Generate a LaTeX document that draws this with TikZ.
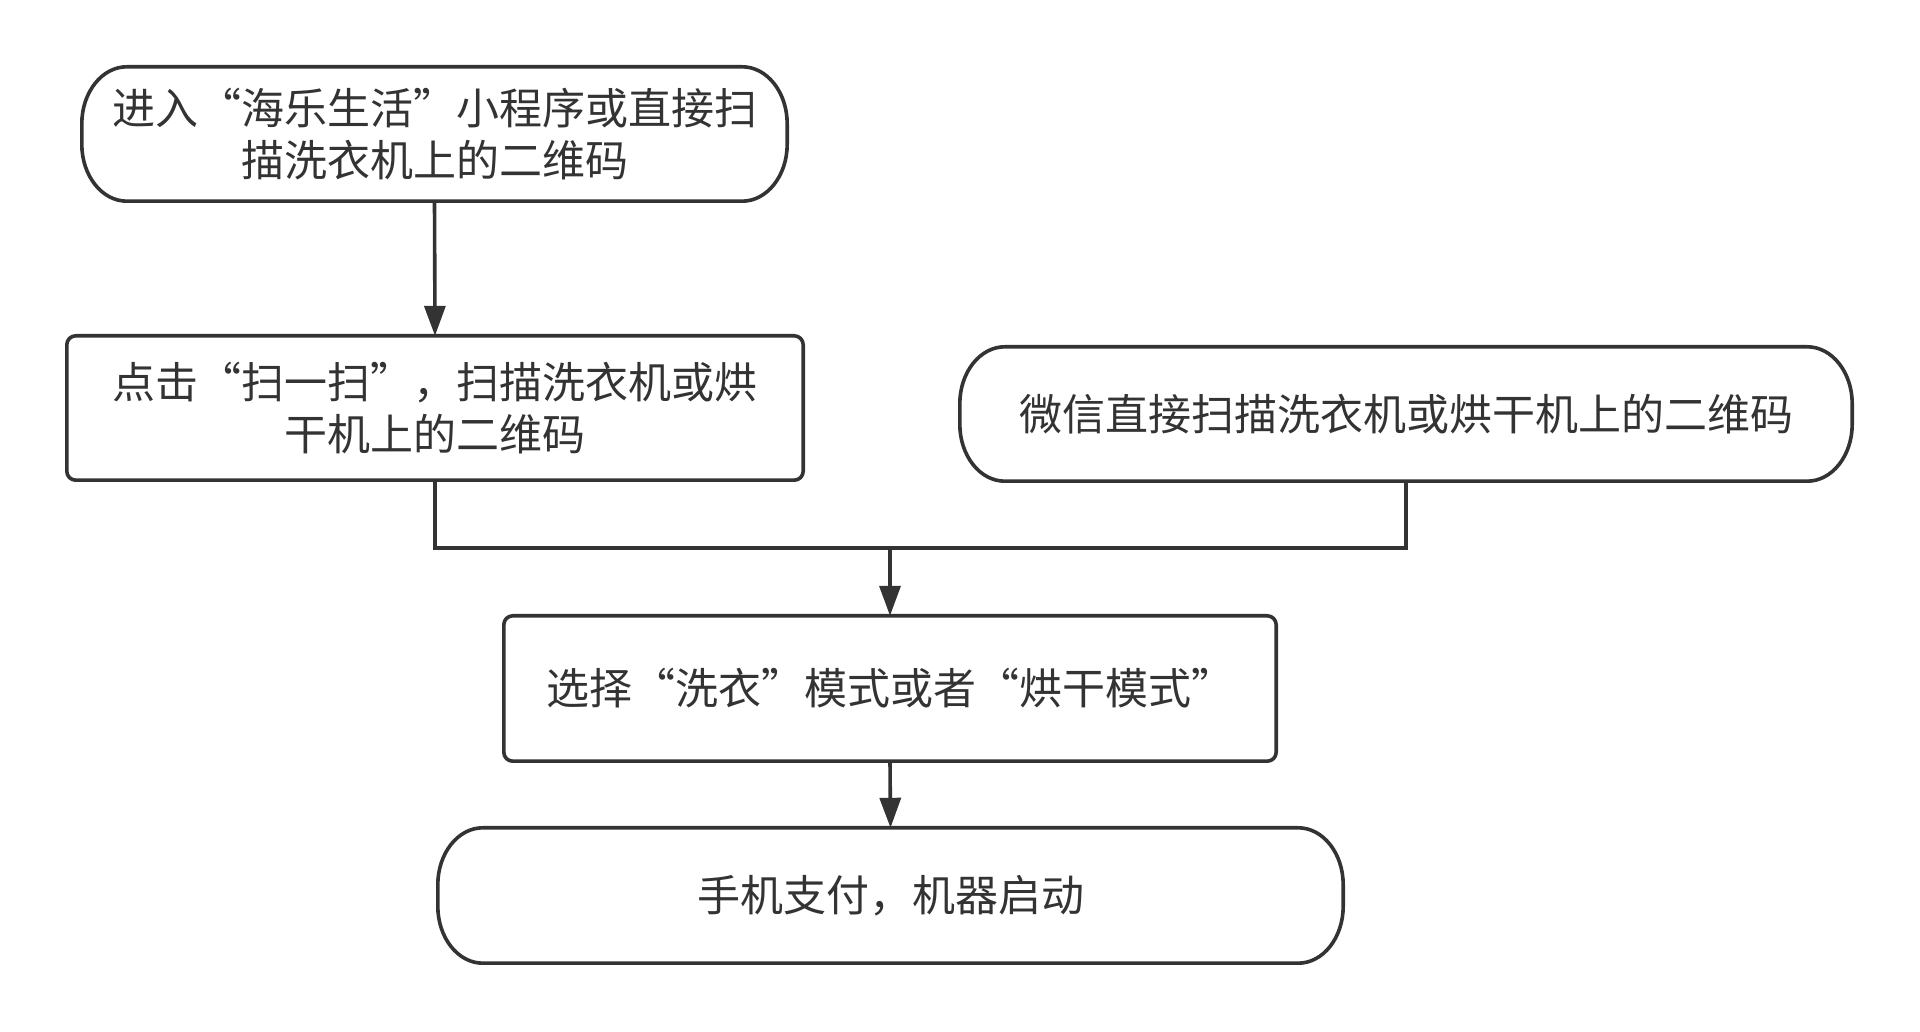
\documentclass[tikz,border=0pt]{standalone}
\usepackage{fontspec}
\newfontfamily\cjk{Noto Sans CJK SC}
\usetikzlibrary{arrows.meta,calc}
\definecolor{ink}{HTML}{333333}
\tikzset{
  ln/.style={draw=ink, line width=3.6pt},
  arr/.style={ln, -{Triangle[length=30pt,width=21pt]}},
  txt/.style={font=\cjk\fontsize{43}{52}\selectfont, text=ink, align=center, inner sep=0pt},
  boxshape/.style={ln, rounded corners=9pt},
}
\newcommand\termshape[1]{%
  \draw[ln] ($(#1.north west)+(45,0)$) -- ($(#1.north east)+(-45,0)$)
    arc[start angle=90,end angle=0,x radius=45,y radius=57]
    -- ($(#1.south east)+(0,57)$)
    arc[start angle=0,end angle=-90,x radius=45,y radius=57]
    -- ($(#1.south west)+(45,0)$)
    arc[start angle=270,end angle=180,x radius=45,y radius=57]
    -- ($(#1.north west)+(0,-57)$)
    arc[start angle=180,end angle=90,x radius=45,y radius=57] -- cycle;}
\begin{document}
\begin{tikzpicture}[x=1pt,y=1pt]
\useasboundingbox[fill=white] (0,0) rectangle (1920,1031);
% nodes
\node[txt, minimum width=705pt, minimum height=134pt] (b1) at (434.5,897) {进入“海乐生活”小程序或直接扫\\描洗衣机上的二维码};
\node[txt, minimum width=736pt, minimum height=144pt] (b2) at (435,623) {点击“扫一扫”，扫描洗衣机或烘\\干机上的二维码};
\node[txt, minimum width=892pt, minimum height=134pt] (b3) at (1406,617) {微信直接扫描洗衣机或烘干机上的二维码};
\node[txt, minimum width=772pt, minimum height=145pt] (b4) at (890,342.5) {选择“洗衣”模式或者“烘干模式”};
\node[txt, minimum width=905pt, minimum height=135pt] (b5) at (890.5,135.5) {手机支付，机器启动};
% shapes
\termshape{b1}
\draw[boxshape] (b2.north west) rectangle (b2.south east);
\termshape{b3}
\draw[boxshape] (b4.north west) rectangle (b4.south east);
\termshape{b5}
% connectors
\coordinate (j) at (890,483);
\draw[arr] (b1.south) -- (b2.north);
\draw[ln] (b2.south) |- (j);
\draw[ln] (b3.south) |- (j);
\draw[arr] (j) -- (b4.north);
\draw[arr] (b4.south) -- (b5.north);
\end{tikzpicture}
\end{document}
